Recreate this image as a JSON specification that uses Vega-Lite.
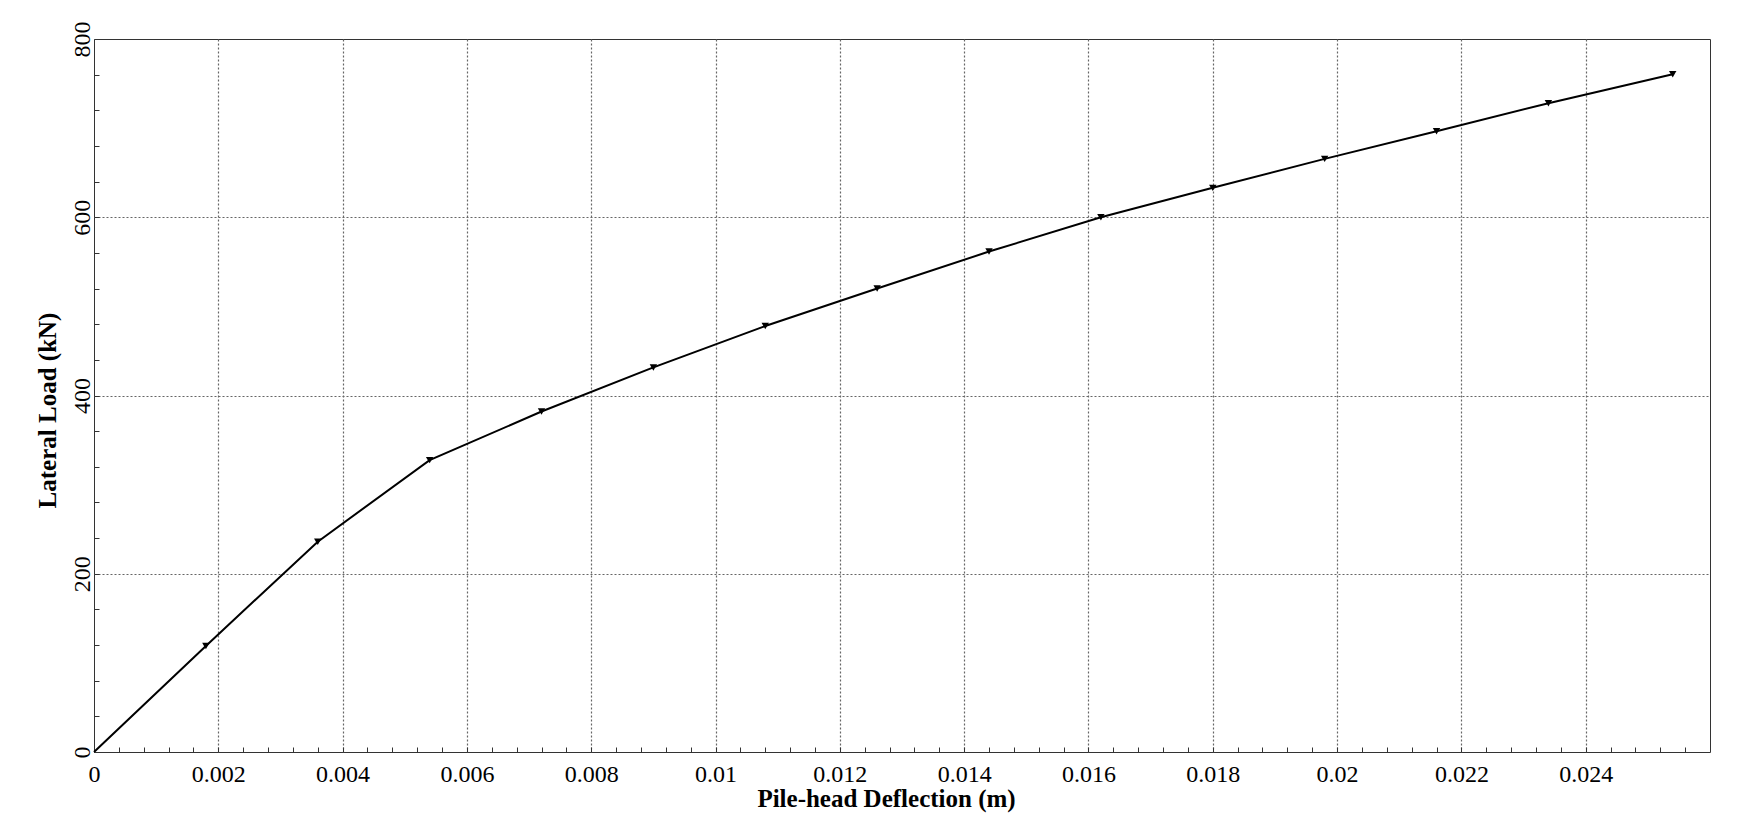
{
  "$schema": "https://vega.github.io/schema/vega-lite/v6.json",
  "width": 1616,
  "height": 713,
  "autosize": {"type": "none"},
  "padding": {"left": 94, "top": 39, "right": 35, "bottom": 66},
  "background": "white",
  "config": {
    "font": "Liberation Serif",
    "view": {"stroke": "#333333", "strokeWidth": 1}
  },
  "data": {
    "values": [
      {"deflection": 0, "load": 0},
      {"deflection": 0.0018, "load": 119},
      {"deflection": 0.0036, "load": 236},
      {"deflection": 0.0054, "load": 327.5},
      {"deflection": 0.0072, "load": 382},
      {"deflection": 0.009, "load": 431.5},
      {"deflection": 0.0108, "load": 478},
      {"deflection": 0.0126, "load": 520},
      {"deflection": 0.0144, "load": 561.5},
      {"deflection": 0.0162, "load": 600},
      {"deflection": 0.018, "load": 633},
      {"deflection": 0.0198, "load": 665.5},
      {"deflection": 0.0216, "load": 696.5},
      {"deflection": 0.0234, "load": 728},
      {"deflection": 0.0254, "load": 760.5}
    ]
  },
  "encoding": {
    "x": {
      "field": "deflection",
      "type": "quantitative",
      "scale": {"domain": [0, 0.026], "nice": false, "zero": false},
      "axis": {
        "title": "Pile-head Deflection (m)",
        "titleFont": "Liberation Serif",
        "titleFontSize": 25,
        "titleFontWeight": "bold",
        "titleColor": "black",
        "titleX": 792,
        "titleY": 54,
        "titleAlign": "center",
        "titleBaseline": "alphabetic",
        "values": [0, 0.0004, 0.0008, 0.0012, 0.0016, 0.002, 0.0024, 0.0028, 0.0032, 0.0036, 0.004, 0.0044, 0.0048, 0.0052, 0.0056, 0.006, 0.0064, 0.0068, 0.0072, 0.0076, 0.008, 0.0084, 0.0088, 0.0092, 0.0096, 0.01, 0.0104, 0.0108, 0.0112, 0.0116, 0.012, 0.0124, 0.0128, 0.0132, 0.0136, 0.014, 0.0144, 0.0148, 0.0152, 0.0156, 0.016, 0.0164, 0.0168, 0.0172, 0.0176, 0.018, 0.0184, 0.0188, 0.0192, 0.0196, 0.02, 0.0204, 0.0208, 0.0212, 0.0216, 0.022, 0.0224, 0.0228, 0.0232, 0.0236, 0.024, 0.0244, 0.0248, 0.0252, 0.0256],
        "labelExpr": "abs(datum.value * 500 - round(datum.value * 500)) < 0.001 ? format(datum.value, '~g') : ''",
        "labelFont": "Liberation Serif",
        "labelFontSize": 24,
        "labelColor": "black",
        "labelFlush": false,
        "labelOverlap": false,
        "labelPadding": 15,
        "domain": false,
        "ticks": true,
        "tickSize": -5,
        "tickColor": "#333333",
        "tickWidth": 1,
        "grid": true,
        "gridColor": "#666666",
        "gridDash": [2, 2],
        "gridWidth": 1.2,
        "gridOpacity": {
          "condition": {"test": "abs(datum.value * 500 - round(datum.value * 500)) < 0.001 && datum.value > 0", "value": 1},
          "value": 0
        }
      }
    },
    "y": {
      "field": "load",
      "type": "quantitative",
      "scale": {"domain": [0, 800], "nice": false, "zero": false},
      "axis": {
        "title": "Lateral Load (kN)",
        "titleFont": "Liberation Serif",
        "titleFontSize": 25,
        "titleFontWeight": "bold",
        "titleColor": "black",
        "titleAngle": -90,
        "titleX": -39,
        "titleY": 371,
        "titleAlign": "center",
        "titleBaseline": "alphabetic",
        "values": [0, 40, 80, 120, 160, 200, 240, 280, 320, 360, 400, 440, 480, 520, 560, 600, 640, 680, 720, 760, 800],
        "labelExpr": "datum.value % 200 === 0 ? format(datum.value, 'd') : ''",
        "labelFont": "Liberation Serif",
        "labelFontSize": 24,
        "labelColor": "black",
        "labelAngle": -90,
        "labelFlush": false,
        "labelOverlap": false,
        "labelPadding": 5,
        "domain": false,
        "ticks": true,
        "tickSize": -5,
        "tickColor": "#333333",
        "tickWidth": 1,
        "grid": true,
        "gridColor": "#666666",
        "gridDash": [2, 2],
        "gridWidth": 1.2,
        "gridOpacity": {
          "condition": {"test": "datum.value % 200 === 0 && datum.value > 0 && datum.value < 800", "value": 1},
          "value": 0
        }
      }
    }
  },
  "layer": [
    {"mark": {"type": "line", "color": "black", "strokeWidth": 2}},
    {
      "transform": [{"filter": "datum.deflection > 0"}],
      "mark": {"type": "point", "shape": "triangle-down", "filled": true, "color": "black", "opacity": 1, "size": 55}
    }
  ]
}
